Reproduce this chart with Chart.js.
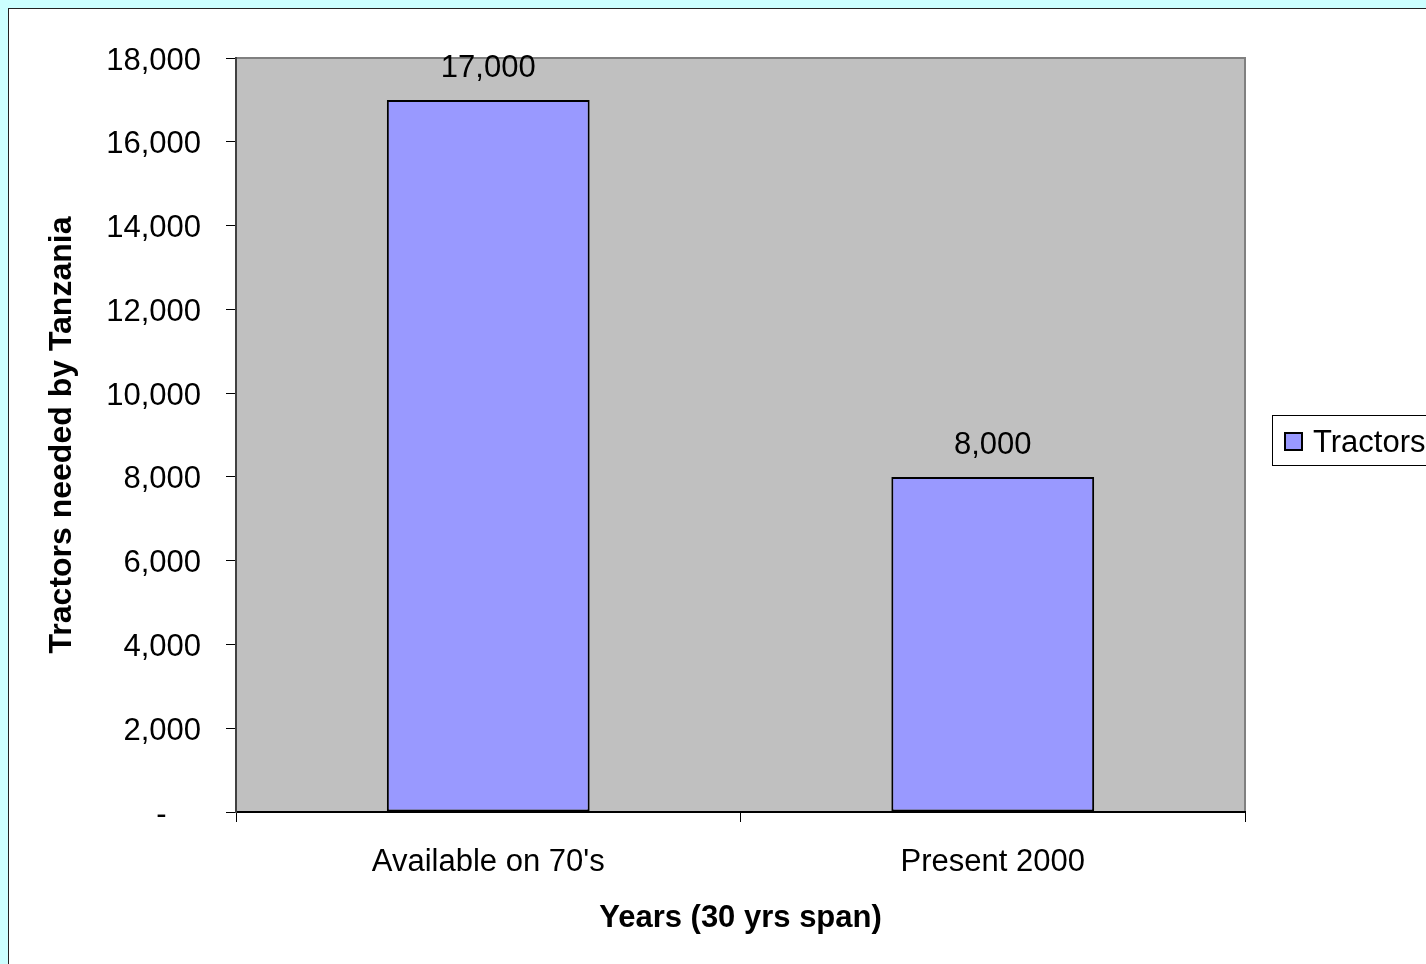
<!DOCTYPE html>
<html>
<head>
<meta charset="utf-8">
<script src="https://cdn.jsdelivr.net/npm/chart.js@4"></script>
<style>
  html, body { margin: 0; padding: 0; background: #CCFFFF; overflow: hidden; }
  #frame { position: absolute; left: 8px; top: 8px; width: 1500px; height: 1000px; background: #FFFFFF; border: 1px solid #222; }
  #c { position: absolute; left: 0; top: 0; }
</style>
</head>
<body>
<div id="frame"></div>
<canvas id="c" width="1426" height="964"></canvas>
<script>
const categories = ["Available on 70's", "Present 2000"];
const seriesName = "Tractors";
const tractors = [17000, 8000];
const yTicks = [0, 2000, 4000, 6000, 8000, 10000, 12000, 14000, 16000, 18000];
const xTitle = "Years (30 yrs span)";
const yTitle = "Tractors needed by Tanzania";

const FONT = "'Liberation Sans', Arial, sans-serif";
const BAR = "#9999FF";
const fmt = v => v === 0 ? "-\u2007\u2007" : v.toLocaleString('en-US');

const plotBg = {
  id: 'plotBg',
  beforeDraw(chart) {
    const { ctx, chartArea: a } = chart;
    ctx.save();
    ctx.fillStyle = '#C0C0C0';
    ctx.fillRect(a.left, a.top, a.right - a.left, a.bottom - a.top);
    ctx.strokeStyle = '#808080';
    ctx.lineWidth = 2;
    ctx.beginPath();
    ctx.moveTo(a.left, a.top);
    ctx.lineTo(a.right, a.top);
    ctx.lineTo(a.right, a.bottom);
    ctx.stroke();
    ctx.restore();
  }
};

const dataLabels = {
  id: 'dataLabels',
  afterDatasetsDraw(chart) {
    const { ctx } = chart;
    const meta = chart.getDatasetMeta(0);
    ctx.save();
    ctx.font = `31px ${FONT}`;
    ctx.fillStyle = '#000';
    ctx.textAlign = 'center';
    ctx.textBaseline = 'middle';
    meta.data.forEach((bar, i) => {
      ctx.fillText(chart.data.datasets[0].data[i].toLocaleString('en-US'), bar.x, bar.y - 31);
    });
    ctx.restore();
  }
};

const customLegend = {
  id: 'customLegend',
  afterDraw(chart) {
    const { ctx } = chart;
    ctx.save();
    ctx.fillStyle = '#fff';
    ctx.fillRect(1272.5, 415.5, 170, 50);
    ctx.strokeStyle = '#000';
    ctx.lineWidth = 1;
    ctx.strokeRect(1272.5, 415.5, 170, 50);
    ctx.fillStyle = BAR;
    ctx.fillRect(1285, 433, 17, 17);
    ctx.lineWidth = 2;
    ctx.strokeRect(1285, 433, 17, 17);
    ctx.fillStyle = '#000';
    ctx.font = `31px ${FONT}`;
    ctx.textAlign = 'left';
    ctx.textBaseline = 'middle';
    ctx.fillText(seriesName, 1313, 443);
    ctx.restore();
  }
};

new Chart(document.getElementById('c'), {
  type: 'bar',
  data: {
    labels: categories,
    datasets: [{
      label: seriesName,
      data: tractors,
      backgroundColor: BAR,
      borderColor: '#000',
      borderWidth: 2,
      borderSkipped: false,
      categoryPercentage: 1,
      barPercentage: 0.402
    }]
  },
  options: {
    responsive: false,
    animation: false,
    devicePixelRatio: 1,
    layout: { padding: { top: 58, right: 181, left: 0, bottom: 0 } },
    plugins: { legend: { display: false }, tooltip: { enabled: false } },
    scales: {
      x: {
        afterFit(s) { s.height = 152; },
        grid: { drawOnChartArea: false, drawTicks: true, tickLength: 10, color: '#000', lineWidth: 1, offset: true },
        border: { color: '#000', width: 2 },
        ticks: { color: '#000', font: { family: FONT, size: 31 }, padding: 22 },
        title: { display: true, text: xTitle, color: '#000', font: { family: FONT, size: 31, weight: 'bold' }, padding: { top: 0, bottom: 27 } }
      },
      y: {
        min: 0, max: 18000,
        afterFit(s) { s.width = 236; },
        afterBuildTicks(s) { s.ticks = yTicks.map(v => ({ value: v })); },
        grid: { drawOnChartArea: false, drawTicks: true, tickLength: 10, color: '#000', lineWidth: 1 },
        border: { color: '#404040', width: 2 },
        ticks: { color: '#000', font: { family: FONT, size: 31 }, padding: 25, labelOffset: 3, callback: v => fmt(v) },
        title: { display: true, text: yTitle, color: '#000', font: { family: FONT, size: 32, weight: 'bold' }, padding: { top: 43, bottom: 0 } }
      }
    }
  },
  plugins: [plotBg, dataLabels, customLegend]
});
</script>
</body>
</html>
